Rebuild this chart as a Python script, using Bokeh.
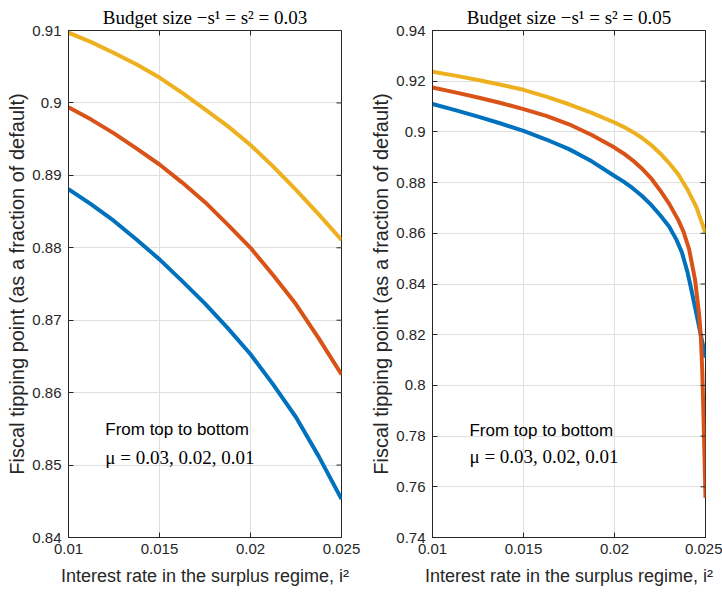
from bokeh.plotting import figure
from bokeh.layouts import row
from bokeh.models import FixedTicker, Label, Range1d
from bokeh.embed import file_html
from bokeh.resources import INLINE

# ---------------- data ----------------
titles = ["Budget size \u2212s\u00b9 = s\u00b2 = 0.03", "Budget size \u2212s\u00b9 = s\u00b2 = 0.05"]
x_label = "Interest rate in the surplus regime, i\u00b2"
y_label = "Fiscal tipping point (as a fraction of default)"
note_line1 = "From top to bottom"
note_line2 = "\u03bc = 0.03, 0.02, 0.01"

x_ticks = [0.01, 0.015, 0.02, 0.025]
x_tick_labels = ["0.01", "0.015", "0.02", "0.025"]
left_y_ticks = [0.84, 0.85, 0.86, 0.87, 0.88, 0.89, 0.9, 0.91]
left_y_tick_labels = ["0.84", "0.85", "0.86", "0.87", "0.88", "0.89", "0.9", "0.91"]
right_y_ticks = [0.74, 0.76, 0.78, 0.8, 0.82, 0.84, 0.86, 0.88, 0.9, 0.92, 0.94]
right_y_tick_labels = ["0.74", "0.76", "0.78", "0.8", "0.82", "0.84", "0.86", "0.88", "0.9", "0.92", "0.94"]

# left panel (budget size 0.03)
left_x = [0.01, 0.01125, 0.0125, 0.01375, 0.015, 0.01625, 0.0175, 0.01875,
          0.02, 0.02125, 0.0225, 0.02375, 0.025]
left_mu001 = [0.8881, 0.8860, 0.8837, 0.8811, 0.8784, 0.8754, 0.8723, 0.8689,
              0.8653, 0.8611, 0.8566, 0.8512, 0.8453]
left_mu002 = [0.8994, 0.8977, 0.8958, 0.8937, 0.8915, 0.8890, 0.8863, 0.8832,
              0.8800, 0.8762, 0.8722, 0.8675, 0.8625]
left_mu003 = [0.9097, 0.9084, 0.9069, 0.9053, 0.9035, 0.9014, 0.8991, 0.8968,
              0.8942, 0.8912, 0.8880, 0.8846, 0.8811]

# right panel (budget size 0.05)
right_x_mu001 = [0.01, 0.01125, 0.0125, 0.01375, 0.015, 0.01625, 0.0175, 0.01875, 0.02, 0.0205,
                 0.021, 0.0215, 0.022, 0.0225, 0.023, 0.0234, 0.0237, 0.024, 0.0242, 0.0245,
                 0.0247, 0.0249, 0.025]
right_mu001 = [0.9110, 0.9086, 0.9060, 0.9033, 0.9004, 0.8970, 0.8932, 0.8884, 0.8826, 0.8804,
               0.8778, 0.8748, 0.8713, 0.8672, 0.8627, 0.8575, 0.8525, 0.8450, 0.8385, 0.8282,
               0.8213, 0.8145, 0.8110]
right_x_mu002 = [0.01, 0.01125, 0.0125, 0.01375, 0.015, 0.01625, 0.0175, 0.01875, 0.02, 0.0205,
                 0.021, 0.0215, 0.022, 0.0225, 0.023, 0.0235, 0.0238, 0.0241, 0.02443, 0.02465,
                 0.02475, 0.02482, 0.02488, 0.02494, 0.025]
right_mu002 = [0.9175, 0.9156, 0.9136, 0.9114, 0.9090, 0.9063, 0.9030, 0.8988, 0.8938, 0.8915,
               0.8888, 0.8856, 0.8818, 0.8770, 0.8717, 0.8653, 0.8605, 0.8537, 0.8415, 0.8280,
               0.8185, 0.8060, 0.7910, 0.7735, 0.7556]
right_x_mu003 = [0.01, 0.01125, 0.0125, 0.01375, 0.015, 0.01625, 0.0175, 0.01875, 0.02, 0.0205,
                 0.021, 0.0215, 0.022, 0.0225, 0.023, 0.0235, 0.024, 0.0242, 0.0245, 0.0247,
                 0.0248, 0.0249, 0.025]
right_mu003 = [0.9237, 0.9222, 0.9205, 0.9186, 0.9166, 0.9139, 0.9109, 0.9075, 0.9037, 0.9020,
               0.9000, 0.8977, 0.8949, 0.8916, 0.8877, 0.8833, 0.8774, 0.8746, 0.8703, 0.8662,
               0.8642, 0.8621, 0.8600]

# ---------------- style ----------------
COLORS = ["#0072BD", "#D95319", "#EDB120"]   # mu = 0.01, 0.02, 0.03
AX = "#262626"
GRID = "#dfdfdf"
SANS = "Liberation Sans"
SERIF = "Liberation Serif"
H = 594


def make_panel(title, yticks, ylabels, xs_list, ys_list, width, bl, br, note_xy):
    y_start, y_end = yticks[0], yticks[-1]
    p = figure(width=width, height=H, x_range=Range1d(x_ticks[0], x_ticks[-1]),
               y_range=Range1d(y_start, y_end), output_backend="svg", toolbar_location=None,
               min_border_left=bl, min_border_right=br, min_border_top=30, min_border_bottom=57,
               outline_line_color=AX, outline_line_width=1)
    p.title.text = title
    p.title.align = "center"
    p.title.text_font = SERIF
    p.title.text_font_size = "19px"
    p.title.text_font_style = "normal"
    p.title.text_color = "black"
    p.title.standoff = 5

    p.xaxis.ticker = FixedTicker(ticks=x_ticks)
    p.xaxis.major_label_overrides = dict(zip(x_ticks, x_tick_labels))
    p.yaxis.ticker = FixedTicker(ticks=yticks)
    p.yaxis.major_label_overrides = dict(zip(yticks, ylabels))
    for ax in (p.xaxis, p.yaxis):
        ax.major_tick_in = 5
        ax.major_tick_out = 0
        ax.minor_tick_line_color = None
        ax.axis_line_color = AX
        ax.major_tick_line_color = AX
        ax.major_label_text_font = SANS
        ax.major_label_text_font_size = "15px"
        ax.major_label_text_color = AX
        ax.axis_label_text_font = SANS
        ax.axis_label_text_font_style = "normal"
        ax.axis_label_text_color = AX
    p.xaxis.axis_label_text_font_size = "18px"
    p.yaxis.axis_label_text_font_size = "20px"
    p.xaxis.major_label_standoff = 6
    p.yaxis.major_label_standoff = 7
    p.xaxis.axis_label = x_label
    p.yaxis.axis_label = y_label
    p.xaxis.axis_label_standoff = 9
    p.yaxis.axis_label_standoff = 1

    p.xgrid.ticker = FixedTicker(ticks=x_ticks)
    p.ygrid.ticker = FixedTicker(ticks=yticks)
    p.xgrid.grid_line_color = GRID
    p.ygrid.grid_line_color = GRID

    for xs, ys, c in zip(xs_list, ys_list, COLORS):
        p.line(xs, ys, line_color=c, line_width=4, line_join="round", line_cap="butt")

    # inward tick marks on the top and right edges of the box (clipped to the frame)
    p.scatter(x_ticks, [y_end] * len(x_ticks), marker="dash", angle=1.5707963, size=10,
              line_color=AX, line_width=1)
    p.scatter([x_ticks[-1]] * len(yticks), yticks, marker="dash", size=10,
              line_color=AX, line_width=1)

    nx, ny1, ny2 = note_xy
    p.add_layout(Label(x=nx, y=ny1, text=note_line1, text_font=SANS, text_font_size="17px",
                       text_color="black", text_baseline="alphabetic"))
    p.add_layout(Label(x=nx, y=ny2, text=note_line2, text_font=SERIF, text_font_size="19px",
                       text_color="black", text_baseline="alphabetic"))
    return p


p1 = make_panel(titles[0], left_y_ticks, left_y_tick_labels,
                [left_x, left_x, left_x], [left_mu001, left_mu002, left_mu003],
                361, 68, 20, (0.01202, 0.8549, 0.8511))
p2 = make_panel(titles[1], right_y_ticks, right_y_tick_labels,
                [right_x_mu001, right_x_mu002, right_x_mu003], [right_mu001, right_mu002, right_mu003],
                361, 71, 17, (0.01203, 0.7824, 0.7719))

layout = row(p1, p2)
open("out.html", "w").write(file_html(layout, INLINE))
